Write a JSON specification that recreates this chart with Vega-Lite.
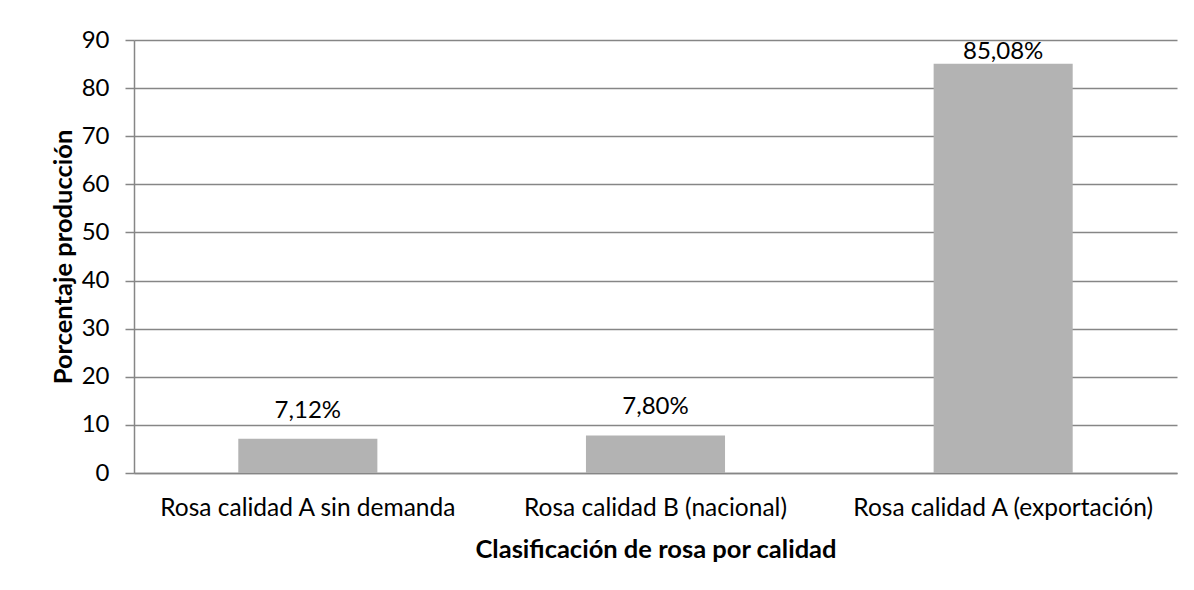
{
  "$schema": "https://vega.github.io/schema/vega-lite/v6.json",
  "width": 1043,
  "height": 433,
  "autosize": {"type": "none"},
  "padding": {"left": 134, "top": 40, "right": 17, "bottom": 117},
  "background": "white",
  "data": {
    "values": [
      {"cat": "Rosa calidad A sin demanda", "value": 7.12, "label": "7,12%"},
      {"cat": "Rosa calidad B (nacional)", "value": 7.80, "label": "7,80%"},
      {"cat": "Rosa calidad A (exportación)", "value": 85.08, "label": "85,08%"}
    ]
  },
  "encoding": {
    "x": {
      "field": "cat", "type": "nominal", "sort": null,
      "scale": {"paddingInner": 0.6, "paddingOuter": 0.3},
      "axis": {
        "title": "Clasificación de rosa por calidad",
        "labelAngle": 0, "ticks": false, "labelPadding": 23, "labelLimit": 0,
        "labelFontSize": 24.5, "labelFont": "Lato", "labelColor": "#000",
        "titleFont": "Lato", "titleFontSize": 25.5, "titleFontWeight": "bold", "titleColor": "#000",
        "titlePadding": 18,
        "domainColor": "#868686", "domainWidth": 1.5, "grid": false
      }
    },
    "y": {
      "field": "value", "type": "quantitative",
      "scale": {"domain": [0, 90], "nice": false},
      "axis": {
        "title": "Porcentaje producción",
        "values": [0, 10, 20, 30, 40, 50, 60, 70, 80, 90],
        "labelFontSize": 24, "labelFont": "Lato", "labelColor": "#000",
        "labelPadding": 16,
        "tickSize": 9, "tickColor": "#868686", "tickWidth": 1.5,
        "domainColor": "#868686", "domainWidth": 1.5,
        "grid": true, "gridColor": "#868686", "gridWidth": 1.5,
        "titleFont": "Lato", "titleFontSize": 25.5, "titleFontWeight": "bold", "titleColor": "#000",
        "titlePadding": 5
      }
    }
  },
  "layer": [
    {"mark": {"type": "bar", "color": "#b3b3b3"}},
    {
      "transform": [{"filter": "datum.value < 50"}],
      "mark": {"type": "text", "font": "Lato", "fontSize": 24, "baseline": "middle", "dy": -28, "color": "#000"},
      "encoding": {"text": {"field": "label"}}
    },
    {
      "transform": [{"filter": "datum.value >= 50"}],
      "mark": {"type": "text", "font": "Lato", "fontSize": 24, "baseline": "middle", "dy": -12, "color": "#000"},
      "encoding": {"text": {"field": "label"}}
    }
  ],
  "config": {"view": {"stroke": null}}
}
